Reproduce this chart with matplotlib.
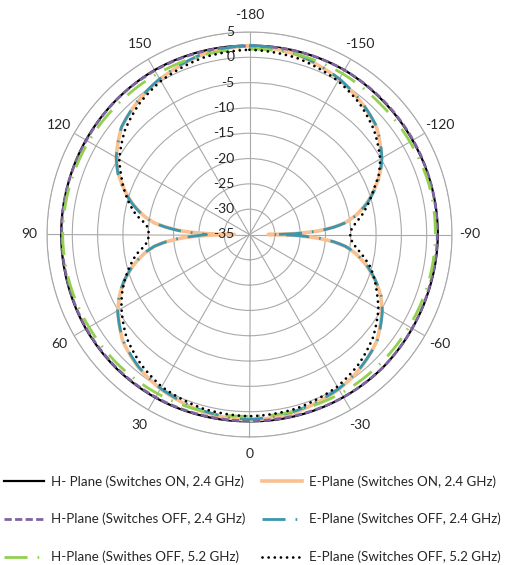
import numpy as np
import matplotlib
matplotlib.use("Agg")
import matplotlib.pyplot as plt
from matplotlib.transforms import ScaledTranslation

plt.rcParams['font.family'] = ['Lato', 'DejaVu Sans']

# ---------------- data (angle in degrees, gain in dB) ----------------
H_ANG = [-180, -165, -150, -135, -120, -105, -90, -75, -60, -45, -30, -15, 0,
         15, 30, 45, 60, 75, 90, 105, 120, 135, 150, 165, 180]
H_ON_24 = [2.3, 2.4, 2.5, 2.3, 2.2, 2.2, 2.2, 2.1, 2.1, 2.2, 2.1, 2.0, 1.9,
           2.0, 2.2, 2.3, 2.3, 2.2, 2.2, 2.2, 2.3, 2.4, 2.5, 2.4, 2.3]
H_OFF_24 = [2.2, 2.4, 2.5, 2.4, 2.3, 2.2, 2.1, 2.0, 2.1, 2.2, 2.1, 1.9, 1.8,
            1.9, 2.1, 2.2, 2.2, 2.1, 2.1, 2.2, 2.2, 2.4, 2.4, 2.3, 2.2]
H_OFF_52 = [1.6, 1.8, 1.7, 1.5, 1.6, 1.8, 1.7, 1.6, 1.4, 1.3, 1.2, 1.0, 0.9,
            1.1, 1.3, 1.5, 1.6, 1.8, 1.9, 1.8, 1.7, 1.6, 1.6, 1.6, 1.6]

E_ANG = [-180, -165, -150, -140, -130, -120, -115, -110, -105, -100,
         -97, -95, -93, -92, -91, -90, -89, -88, -87, -85,
         -83, -80, -75, -70, -65, -60, -50, -40, -30, -15,
         0,
         15, 30, 40, 50, 60, 65, 70, 75, 80, 83,
         85, 87, 88, 89, 90, 91, 92, 93, 95, 97,
         100, 105, 110, 115, 120, 130, 140, 150, 165, 180]
E_ON_24 = [2.3, 1.7, 0.4, -0.8, -2.2, -4.9, -6.6, -8.7, -11.0, -13.8,
           -16.0, -18.3, -21.3, -23.8, -26.5, -31.3, -26.5, -24.0, -21.5, -18.3,
           -16.0, -13.8, -11.0, -8.6, -6.4, -4.8, -2.2, -0.7, 0.3, 1.2,
           1.7,
           1.2, 0.2, -0.8, -2.3, -5.0, -6.7, -8.8, -11.2, -14.0, -16.2,
           -18.5, -21.5, -24.0, -27.0, -32.0, -27.0, -24.0, -21.5, -18.5, -16.0,
           -13.8, -11.0, -8.6, -6.4, -4.6, -2.0, -0.7, 0.4, 1.7, 2.3]
E_OFF_24 = [2.4, 1.8, 0.5, -0.7, -2.1, -4.8, -6.5, -8.6, -10.9, -13.7,
            -15.9, -18.2, -21.2, -23.6, -26.0, -30.6, -26.0, -23.6, -21.3, -18.2,
            -15.9, -13.7, -10.9, -8.5, -6.3, -4.7, -2.1, -0.8, 0.2, 1.0,
            1.5,
            1.0, 0.1, -0.9, -2.4, -4.9, -6.6, -8.7, -11.1, -13.9, -16.1,
            -18.4, -21.2, -23.3, -25.0, -26.5, -25.0, -23.3, -21.2, -18.4, -15.9,
            -13.7, -10.9, -8.5, -6.3, -4.6, -2.0, -0.6, 0.5, 1.8, 2.4]
E_OFF_52 = [1.5, 1.1, 0.0, -1.2, -2.9, -5.2, -6.8, -8.9, -10.6, -12.4,
            -13.6, -14.3, -14.8, -15.0, -15.1, -15.1, -15.1, -15.0, -14.9, -14.4,
            -13.8, -12.5, -10.3, -8.7, -7.2, -5.6, -3.2, -1.5, -0.3, 0.6,
            0.9,
            0.6, -0.3, -1.6, -3.3, -5.8, -7.2, -8.8, -10.5, -12.3, -13.8,
            -14.5, -14.9, -15.0, -15.1, -15.2, -15.1, -15.0, -15.0, -14.6, -13.8,
            -12.2, -10.3, -8.6, -7.0, -5.3, -2.9, -1.2, 0.0, 1.1, 1.5]

R_TICKS = [-35, -30, -25, -20, -15, -10, -5, 0, 5]
THETA_TICKS = [0, 30, 60, 90, 120, 150, 180, 210, 240, 270, 300, 330]
THETA_LABELS = ['0', '30', '60', '90', '120', '150', '-180', '-150', '-120',
                '-90', '-60', '-30']

LABELS = {
    'h_on': 'H- Plane (Switches ON, 2.4 GHz)',
    'e_on': 'E-Plane (Switches ON, 2.4 GHz)',
    'h_off24': 'H-Plane (Switches OFF, 2.4 GHz)',
    'e_off24': 'E-Plane (Switches OFF, 2.4 GHz)',
    'h_off52': 'H-Plane (Swithes OFF, 5.2 GHz)',
    'e_off52': 'E-Plane (Switches OFF, 5.2 GHz)',
}

# ---------------- figure ----------------
W, H = 506, 565
fig = plt.figure(figsize=(W / 100, H / 100), dpi=100)
cx, cy, R = 249.5, 234.5, 202.5
ax = fig.add_axes([(cx - R) / W, (H - cy - R) / H, 2 * R / W, 2 * R / H],
                  projection='polar')
ax.set_theta_zero_location('S')
ax.set_theta_direction(-1)
ax.set_ylim(-35, 5)
ax.set_yticks(R_TICKS)
ax.set_yticklabels([])
ax.set_xticks(np.deg2rad(THETA_TICKS))
ax.set_xticklabels(THETA_LABELS, fontsize=10, color='#262626')
ax.tick_params(axis='x', pad=2)
grid_col = '#A9A9A9'
ax.grid(True, color=grid_col, lw=0.8)
ax.spines['polar'].set_color(grid_col)
ax.spines['polar'].set_linewidth(0.8)

off = ScaledTranslation(-15 / 100, 0, fig.dpi_scale_trans)
for r in R_TICKS:
    ax.text(np.pi, r, str(r), transform=ax.transData + off, ha='right',
            va='center', fontsize=10, color='#262626')

def th(a):
    return np.deg2rad(np.asarray(a, dtype=float))

lines = {}
lines['h_on'], = ax.plot(th(H_ANG), H_ON_24, color='black', lw=1.6,
                         label=LABELS['h_on'])
lines['e_on'], = ax.plot(th(E_ANG), E_ON_24, color='#FAC08F', lw=2.6,
                         label=LABELS['e_on'])
lines['h_off24'], = ax.plot(th(H_ANG), H_OFF_24, color='#7E63A0', lw=2.0,
                            ls=(0, (2.6, 1.2)), label=LABELS['h_off24'])
lines['e_off24'], = ax.plot(th(E_ANG), E_OFF_24, color='#3A97AE', lw=2.0,
                            ls=(0, (8.3, 3.6, 0.6, 3.6)), label=LABELS['e_off24'])
lines['h_off52'], = ax.plot(th(H_ANG), H_OFF_52, color='#92D050', lw=2.0,
                            ls=(0, (8.3, 3.6, 0.6, 3.6)), label=LABELS['h_off52'])
lines['e_off52'], = ax.plot(th(E_ANG), E_OFF_52, color='black', lw=2.0,
                            ls=(0, (0.01, 2.2)), dash_capstyle='round',
                            label=LABELS['e_off52'])

# let the polar transform draw curved (spiral) segments between data points
for ln in lines.values():
    ln.recache(always=True)
    ln.get_path()._interpolation_steps = 40

order = ['h_on', 'h_off24', 'h_off52', 'e_on', 'e_off24', 'e_off52']
fig.legend([lines[k] for k in order], [LABELS[k] for k in order], ncol=2,
           loc='upper left', bbox_to_anchor=(0.008, 1 - 475 / H),
           frameon=False, fontsize=9.6, handlelength=3.0, handletextpad=0.5,
           labelspacing=1.9, columnspacing=1.3, borderpad=0, borderaxespad=0,
           labelcolor='#262626')

fig.savefig('out.png', dpi=100)
